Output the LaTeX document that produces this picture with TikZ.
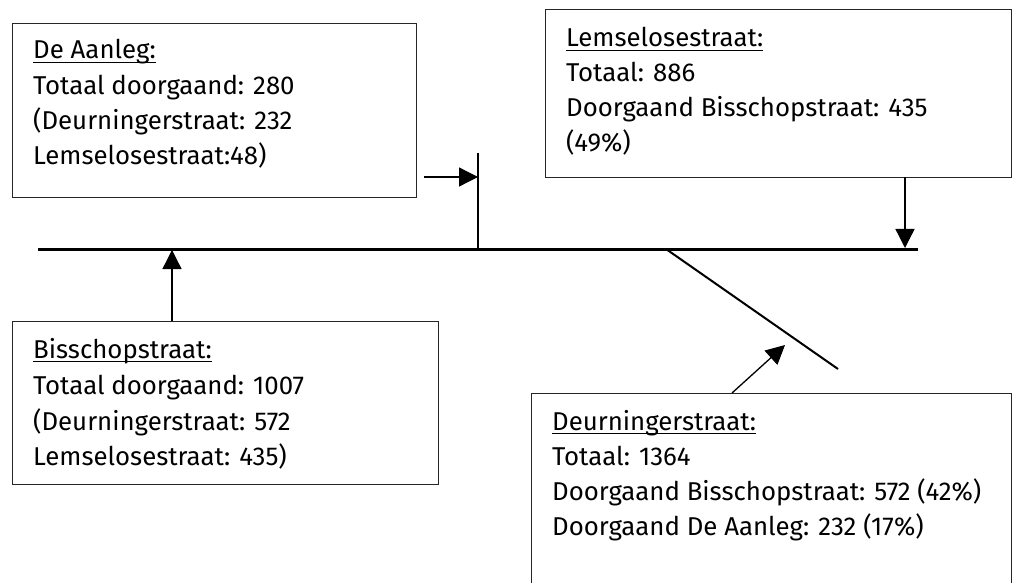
\documentclass[tikz,border=0pt]{standalone}
\usepackage{fontspec}
\setmainfont{Fira Sans}
\usetikzlibrary{arrows.meta}
\newcommand{\ulx}[1]{\setbox0\hbox{#1}\rlap{\rule[-4pt]{\wd0}{1.1pt}}\box0}
\tikzset{
  box/.style={draw=black!85, line width=1.3pt, rectangle, anchor=north west, inner sep=0pt},
  txt/.style={anchor=base west, inner sep=0pt, font=\fontsize{25.8}{30}\selectfont},
  arr/.style={line width=1.3pt, -{Triangle[length=19pt,width=19pt]}},
  road/.style={line width=3pt},
  side/.style={line width=2pt},
}
\begin{document}
\begin{tikzpicture}[x=1pt,y=-1pt]
\useasboundingbox (0,0) rectangle (1013,583);
\clip (0,0) rectangle (1013,583);
% boxes
\node[box, minimum width=404pt, minimum height=174pt] (b1) at (12,23) {};
\node[box, minimum width=466pt, minimum height=168pt] (b2) at (545,9) {};
\node[box, minimum width=426pt, minimum height=163pt] (b3) at (12,321) {};
\node[box, minimum width=480pt, minimum height=220pt] (b4) at (531,393) {};
% texts box 1
\node[txt] (t11) at (33,59) {\ulx{De Aanleg:}};
\node[txt] (t12) at (33,95) {Totaal doorgaand: 280};
\node[txt] (t13) at (33,130) {(Deurningerstraat: 232};
\node[txt] (t14) at (33,165) {Lemselosestraat:48)};
% texts box 2
\node[txt] (t21) at (566,47) {\ulx{Lemselosestraat:}};
\node[txt] (t22) at (566,82) {Totaal: 886};
\node[txt] (t23) at (566,117) {Doorgaand Bisschopstraat: 435};
\node[txt] (t24) at (566,152) {(49\%)};
% texts box 3
\node[txt] (t31) at (33,358) {\ulx{Bisschopstraat:}};
\node[txt] (t32) at (33,394) {Totaal doorgaand: 1007};
\node[txt] (t33) at (33,430) {(Deurningerstraat: 572};
\node[txt] (t34) at (33,465) {Lemselosestraat: 435)};
% texts box 4
\node[txt] (t41) at (552,430) {\ulx{Deurningerstraat:}};
\node[txt] (t42) at (552,465) {Totaal: 1364};
\node[txt] (t43) at (552,500) {Doorgaand Bisschopstraat: 572 (42\%)};
\node[txt] (t44) at (552,535) {Doorgaand De Aanleg: 232 (17\%)};
% road geometry
\coordinate (mL) at (38,249);
\coordinate (mR) at (918,249);
\coordinate (vT) at (478,153);
\coordinate (vB) at (478,249);
\coordinate (dS) at (666,249);
\coordinate (dE) at (838,369);
\draw[road] (mL) -- (mR);
\draw[side] (vT) -- (vB);
\draw[side] (dS) -- (dE);
% arrows
\coordinate (a1s) at (424,177);
\coordinate (a1e) at (478,177);
\draw[arr] (a1s) -- (a1e);
\coordinate (a2s) at (905,177);
\coordinate (a2e) at (905,248);
\draw[arr] (a2s) -- (a2e);
\coordinate (a3s) at (172,321);
\coordinate (a3e) at (172,250);
\draw[arr] (a3s) -- (a3e);
\coordinate (a4s) at (732,393);
\coordinate (a4e) at (785,345);
\draw[arr] (a4s) -- (a4e);
\end{tikzpicture}
\end{document}
